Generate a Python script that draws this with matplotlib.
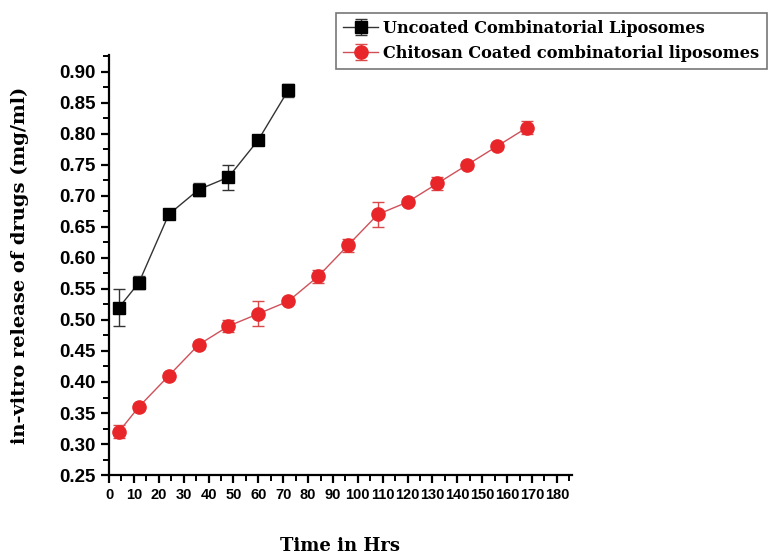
import numpy as np
import matplotlib
matplotlib.use("Agg")
import matplotlib.pyplot as plt
from matplotlib.ticker import MultipleLocator

# release data
t_uncoated = [4, 12, 24, 36, 48, 60, 72]
rel_uncoated = [0.52, 0.56, 0.67, 0.71, 0.73, 0.79, 0.87]
err_uncoated = [0.03, 0.01, 0.004, 0.01, 0.02, 0.004, 0.01]

t_coated = [4, 12, 24, 36, 48, 60, 72, 84, 96, 108, 120, 132, 144, 156, 168]
rel_coated = [0.32, 0.36, 0.41, 0.46, 0.49, 0.51, 0.53, 0.57, 0.62, 0.67,
              0.69, 0.72, 0.75, 0.78, 0.81]
err_coated = [0.01, 0.004, 0.004, 0.005, 0.01, 0.02, 0.005, 0.01, 0.01, 0.02,
              0.005, 0.01, 0.005, 0.004, 0.01]

label_uncoated = "Uncoated Combinatorial Liposomes"
label_coated = "Chitosan Coated combinatorial liposomes"

fig = plt.figure(figsize=(7.7, 5.55), dpi=100)
ax = fig.add_axes([0.1416, 0.144, 0.601, 0.757])

ax.errorbar(t_uncoated, rel_uncoated, yerr=err_uncoated, color="#333333",
            marker="s", markersize=8, markerfacecolor="black",
            markeredgecolor="black", linewidth=1, elinewidth=1, capsize=4,
            ecolor="#333333", label=label_uncoated)
ax.errorbar(t_coated, rel_coated, yerr=err_coated, color="#d0505a",
            marker="o", markersize=9.5, markerfacecolor="#e8262a",
            markeredgecolor="#e8262a", linewidth=1, elinewidth=1, capsize=4,
            ecolor="#d94a4a", label=label_coated)

ax.set_xlim(0, 186)
ax.set_ylim(0.25, 0.927)
ax.xaxis.set_minor_locator(MultipleLocator(5))
ax.yaxis.set_minor_locator(MultipleLocator(0.025))
ax.spines["top"].set_visible(False)
ax.spines["right"].set_visible(False)
for s in ["left", "bottom"]:
    ax.spines[s].set_linewidth(1.6)
ax.tick_params(which="major", direction="out", length=6, width=1.6)
ax.tick_params(which="minor", direction="out", length=4, width=1.4)

yt = np.arange(0.25, 0.91, 0.05)
ax.set_yticks(yt)
ax.set_yticklabels([f"{v:.2f}" for v in yt],
                   fontsize=13.5, fontweight="bold", family="Liberation Sans")
ax.set_xticks(np.arange(0, 181, 10))
ax.set_xticklabels([str(v) for v in range(0, 181, 10)],
                   fontsize=10.5, fontweight="bold", family="Liberation Sans")

ax.set_ylabel("in-vitro release of drugs (mg/ml)", fontsize=14,
              fontweight="bold", family="DejaVu Serif", labelpad=22)
fig.text(0.442, 0.0, "Time in Hrs", fontsize=13, fontweight="bold",
         family="DejaVu Serif", ha="center", va="bottom")

leg = fig.legend(loc="upper left", bbox_to_anchor=(0.436, 0.977),
                 prop={"family": "DejaVu Serif", "weight": "bold", "size": 11.6},
                 frameon=True, fancybox=False, edgecolor="#555555",
                 handlelength=2.2, handletextpad=0.3, borderpad=0.45,
                 labelspacing=0.5, borderaxespad=0)
leg.get_frame().set_linewidth(1.2)

fig.savefig("out.png", dpi=100)
